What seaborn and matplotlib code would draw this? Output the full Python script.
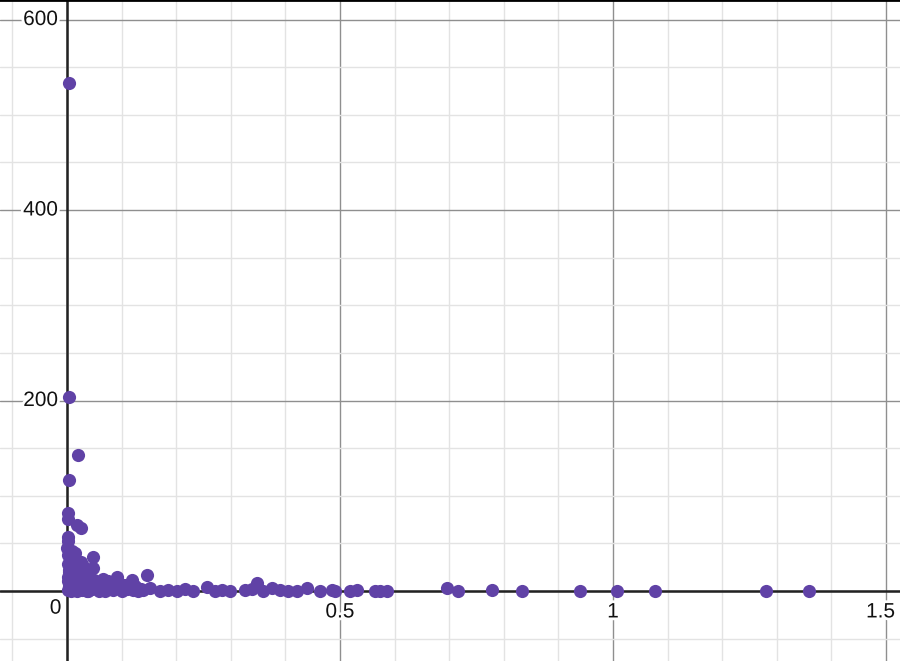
import seaborn as sns
import matplotlib.pyplot as plt
import matplotlib.patheffects as pe
import pandas as pd

sns.set_style('white')
plt.rcParams['font.family'] = ['Liberation Sans', 'DejaVu Sans']

# points
x_vals = [0.004, 0.003, 0.021, 0.004, 0.001, 0.001, 0.018, 0.025, 0.001, 0.002,
          0.000, 0.005, 0.010, 0.015, 0.008, 0.002, 0.012, 0.020, 0.004, 0.018,
          0.025, 0.030, 0.006, 0.014, 0.022, 0.001, 0.009, 0.028, 0.035, 0.003,
          0.011, 0.017, 0.024, 0.032, 0.040, 0.001, 0.007, 0.013, 0.019, 0.027,
          0.036, 0.045, 0.047, 0.048, 0.050, 0.055, 0.060, 0.066, 0.070, 0.075,
          0.080, 0.085, 0.092, 0.095, 0.100, 0.105, 0.110, 0.119, 0.120, 0.125,
          0.130, 0.135, 0.147, 0.140, 0.152, 0.170, 0.185, 0.201, 0.216, 0.231,
          0.256, 0.271, 0.284, 0.299, 0.326, 0.339, 0.348, 0.359, 0.375, 0.390,
          0.405, 0.421, 0.440, 0.463, 0.485, 0.491, 0.518, 0.531, 0.564, 0.573,
          0.586, 0.696, 0.716, 0.778, 0.833, 0.940, 1.007, 1.077, 1.280, 1.359,
          0.002, 0.006, 0.010, 0.014, 0.003, 0.008, 0.016, 0.021, 0.026, 0.004,
          0.012, 0.019, 0.029, 0.034, 0.038, 0.002, 0.009, 0.023, 0.031, 0.042,
          0.005, 0.015, 0.033, 0.039, 0.044, 0.052, 0.058, 0.063, 0.068, 0.078]
y_vals = [533, 204, 143, 117, 82, 76, 69, 66, 57, 52,
          45, 40, 42, 35, 30, 28, 25, 22, 20, 18,
          30, 20, 15, 12, 10, 10, 8, 12, 15, 5,
          4, 3, 5, 6, 8, 1, 0, 1, 0, 1,
          0, 2, 36, 24, 12, 5, 2, 13, 0, 10,
          3, 1, 15, 4, 0, 6, 2, 12, 1, 5,
          0, 2, 17, 1, 3, 0, 1, 0, 2, 0,
          4, 0, 1, 0, 1, 2, 8, 0, 3, 1,
          0, 0, 3, 0, 1, 0, 0, 1, 0, 0,
          0, 3, 0, 1, 0, 0, 0, 0, 0, 0,
          38, 33, 30, 28, 22, 18, 17, 14, 20, 12,
          9, 6, 4, 9, 3, 15, 23, 27, 25, 11,
          35, 40, 2, 0, 5, 8, 0, 3, 6, 2]

df = pd.DataFrame({'x': x_vals, 'y': y_vals})

fig = plt.figure(figsize=(9, 6.61), dpi=100)
ax = fig.add_axes([0, 0, 1, 1])

ax.set_xlim(-0.1227, 1.5256)
ax.set_ylim(-73.5, 620.5)

# grid like a graphing calculator
ax.set_xticks([-0.1 + 0.1 * i for i in range(17)], minor=True)
ax.set_yticks([-50 + 50 * i for i in range(14)], minor=True)
ax.set_xticks([0, 0.5, 1, 1.5])
ax.set_yticks([0, 200, 400, 600])
ax.grid(which='minor', color='#e3e3e3', lw=1.0, zorder=0)
ax.grid(which='major', color='#8f8f8f', lw=1.0, zorder=0)
ax.tick_params(which='both', length=0, labelbottom=False, labelleft=False)
ax.axhline(0, color='#222222', lw=1.8, zorder=1)
ax.axvline(0, color='#222222', lw=1.8, zorder=1)
for s in ['left', 'right', 'bottom']:
    ax.spines[s].set_visible(False)
ax.spines['top'].set_color('black')
ax.spines['top'].set_linewidth(2)

sns.scatterplot(data=df, x='x', y='y', color='#6042a6', s=90,
                linewidth=0, ax=ax, zorder=3)
ax.set_xlabel('')
ax.set_ylabel('')

halo = [pe.withStroke(linewidth=4, foreground='white')]
for v in [200, 400, 600]:
    ax.text(-0.016, v, str(v), ha='right', va='center', fontsize=15,
            color='#111111', path_effects=halo, zorder=2)
ax.text(-0.010, -18, '0', ha='right', va='center', fontsize=15,
        color='#111111', path_effects=halo, zorder=2)
for v, lab in [(0.5, '0.5'), (1, '1'), (1.49, '1.5')]:
    ax.text(v, -22, lab, ha='center', va='center', fontsize=15,
            color='#111111', path_effects=halo, zorder=2)

fig.savefig('out.png', dpi=100)
